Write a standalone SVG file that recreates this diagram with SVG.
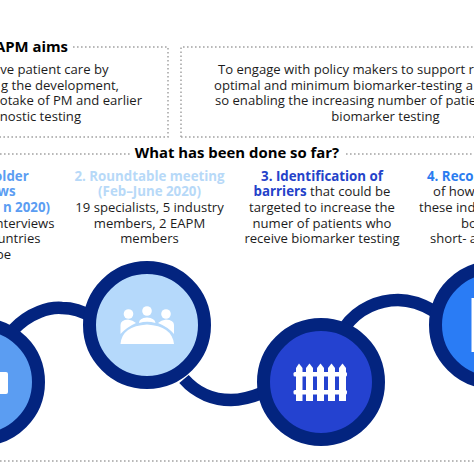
<svg xmlns="http://www.w3.org/2000/svg" width="474" height="474" viewBox="0 0 474 474">
<style>
text{font-family:"Open Sans","Noto Sans","Liberation Sans",sans-serif;font-size:13.1px;fill:#1c1c1c}
.c{text-anchor:middle}.e{text-anchor:end}
.h{font-size:14.9px;font-weight:700;fill:#000}
.b{font-weight:700;font-size:13.3px}
.dot{fill:none;stroke:#a3a3a3;stroke-width:1.5;stroke-dasharray:1.6 2.4}
.link{fill:none;stroke:#03247f;stroke-width:12.5}
.ring{stroke:#03247f;stroke-width:13}
.ic{fill:#fff}
</style>
<rect width="474" height="474" fill="#fff"/>
<g id="frames">
<path class="dot" d="M73 47H168V137H0"/>
<path class="dot" d="M181 137V47H474M181 137H474"/>
<path class="dot" d="M0 154H130M346 154H474"/>
<path class="dot" d="M0 461H474"/>
</g>
<g id="aims-left">
<text class="h e" x="68" y="52">APM aims</text>
<text class="e" x="108.500" y="74">ve patient care by</text>
<text class="e" x="119" y="90">g the development,</text>
<text class="e" x="142" y="105">otake of PM and earlier</text>
<text class="e" x="81" y="121">nostic testing</text>
</g>
<g id="aims-right">
<text x="218" y="74">To engage with policy makers to support r</text>
<text x="214" y="90">optimal and minimum biomarker-testing a</text>
<text x="215" y="105">so enabling the increasing number of patie</text>
<text class="c" x="385.500" y="121">biomarker testing</text>
</g>
<text id="heading" class="h c" x="237" y="158">What has been done so far?</text>
<g id="step1-text">
<text class="e b" x="28.700" y="181" style="fill:#5b9df2">older</text>
<text class="e b" x="15.600" y="196" style="fill:#5b9df2">ws</text>
<text class="e b" x="50" y="212" style="fill:#5b9df2">n 2020)</text>
<text class="e" x="54.500" y="228">nterviews</text>
<text class="e" x="40.500" y="243">untries</text>
<text class="e" x="11" y="259">be</text>
</g>
<g id="step2-text">
<text class="c b" x="149.500" y="181" style="fill:#b7d9f8">2. Roundtable meeting</text>
<text class="c b" x="149.500" y="196" style="fill:#b7d9f8">(Feb–June 2020)</text>
<text class="c" x="149.500" y="212">19 specialists, 5 industry</text>
<text class="c" x="149.500" y="228">members, 2 EAPM</text>
<text class="c" x="149.500" y="243">members</text>
</g>
<g id="step3-text">
<text class="c b" x="322" y="181" style="fill:#2442c9">3. Identification of</text>
<text class="c" x="322" y="196"><tspan class="b" style="fill:#2442c9">barriers</tspan> that could be</text>
<text class="c" x="322" y="212">targeted to increase the</text>
<text class="c" x="322" y="228">numer of patients who</text>
<text class="c" x="322" y="243">receive biomarker testing</text>
</g>
<g id="step4-text">
<text class="b" x="427" y="181" style="fill:#2a7cf0">4. Reco</text>
<text x="433" y="196">of how</text>
<text x="419" y="212">these ind</text>
<text x="461" y="228">bo</text>
<text x="430" y="243">short- a</text>
</g>
<g id="connectors">
<path class="link" d="M13 330C30 312 50 307 62 308C72 308 84 312 92 317"/>
<path class="link" d="M184 379C197 394 215 400 231 400C242 400 252 397 262 393"/>
<path class="link" d="M345 327C358 308 380 300 398 300C410 300 422 304 434 311"/>
</g>
<g id="node1">
<circle class="ring" cx="-19" cy="382" r="57.500" fill="#5b9df2"/>
<rect class="ic" x="-10" y="372" width="18" height="22" rx="2"/>
</g>
<g id="node2">
<circle class="ring" cx="147" cy="325" r="57.500" fill="#b5d9fb"/>
<g class="ic">
<circle cx="128.500" cy="314" r="4.800"/><circle cx="147" cy="311" r="4.800"/><circle cx="166" cy="314" r="4.800"/>
<path d="M120.500 334V325Q120.500 320 128 319.500Q133 320 136 323Q127 327 120.500 334Z"/>
<path d="M139 323Q139 318 147 317.500Q155 318 155.500 323Q147 320.500 139 323Z"/>
<path d="M174 334V325Q174 320 166 319.500Q161 320 158 323Q168 327 174 334Z"/>
<path d="M120.500 344Q122 326 147 324.500Q172 326 174 344Z"/>
</g>
</g>
<g id="node3">
<circle class="ring" cx="321" cy="382" r="57.500" fill="#2442d0"/>
<g class="ic">
<path d="M296 368L299 363.500L302.500 368V401H296Z"/>
<path d="M306 368L309.500 363.500L313 368V401H306Z"/>
<path d="M317 368L320.500 363.500L324 368V401H317Z"/>
<path d="M328 368L331.500 363.500L335 368V401H328Z"/>
<path d="M339 368L342.500 363.500L346 368V401H339Z"/>
<rect x="293.500" y="372" width="53.500" height="4.500" rx="1.500"/>
<rect x="293.500" y="390" width="53.500" height="4.500" rx="1.500"/>
</g>
</g>
<g id="node4">
<circle class="ring" cx="493" cy="325" r="57.500" fill="#2a7cf5"/>
<rect class="ic" x="471.500" y="298" width="10" height="54"/>
</g>
</svg>
